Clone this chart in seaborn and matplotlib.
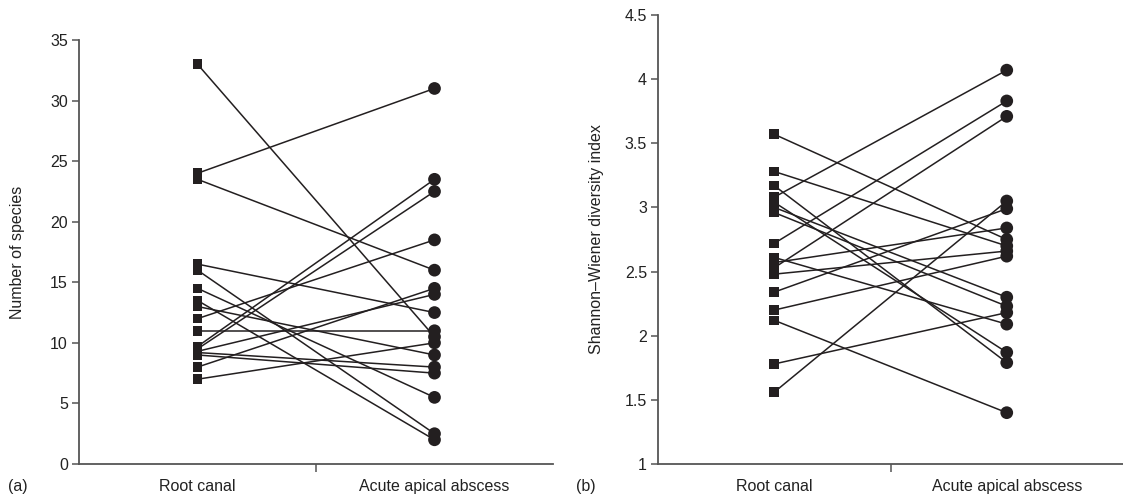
import matplotlib
matplotlib.use("Agg")
import matplotlib.pyplot as plt
import numpy as np
import pandas as pd
import seaborn as sns

# Paired samples: root canal vs. acute apical abscess
groups = ["Root canal", "Acute apical abscess"]

root_species = [33, 24, 23.5, 16.5, 16, 14.5, 13.5, 13, 12, 11,
                9.7, 9.5, 9.3, 9.2, 9, 8, 7]
abscess_species = [10.5, 31, 16, 12.5, 2.5, 5.5, 2, 9, 18.5, 11,
                   23.5, 22.5, 14, 8, 7.5, 14.5, 10]

root_shannon = [3.57, 3.28, 3.17, 3.08, 3.04, 3.00, 2.96, 2.72, 2.61, 2.57,
                2.53, 2.48, 2.34, 2.20, 2.12, 1.78, 1.56]
abscess_shannon = [2.75, 2.70, 1.79, 4.07, 1.87, 2.30, 2.23, 3.83, 2.09, 2.84,
                   3.71, 2.66, 2.99, 2.62, 1.40, 2.18, 3.05]

species_ticks = [0, 5, 10, 15, 20, 25, 30, 35]
species_ticklabels = ["0", "5", "10", "15", "20", "25", "30", "35"]
shannon_ticks = [1, 1.5, 2, 2.5, 3, 3.5, 4, 4.5]
shannon_ticklabels = ["1", "1.5", "2", "2.5", "3", "3.5", "4", "4.5"]

ink = "#231f20"
spine_col = "#555555"

sns.set_theme(style="ticks")
plt.rcParams["font.family"] = ["Liberation Sans", "DejaVu Sans"]
plt.rcParams["font.size"] = 11.5

fig = plt.figure(figsize=(11.23, 5), dpi=100)
ax_a = fig.add_axes([79 / 1123, 36 / 500, 474 / 1123, 424 / 500])
ax_b = fig.add_axes([658 / 1123, 36 / 500, 465 / 1123, 449 / 500])


def paired_panel(ax, before, after, ylim, yticks, yticklabels, ylabel, labelpad):
    n = len(before)
    df = pd.DataFrame({
        "pair": list(range(n)) * 2,
        "pos": [1] * n + [3] * n,
        "value": list(before) + list(after),
        "group": [groups[0]] * n + [groups[1]] * n,
    })
    sns.lineplot(data=df, x="pos", y="value", units="pair", estimator=None,
                 color=ink, linewidth=1.1, ax=ax, legend=False, zorder=2)
    sns.scatterplot(data=df[df["group"] == groups[0]], x="pos", y="value",
                    marker="s", s=48, color=ink, edgecolor="none",
                    ax=ax, legend=False, zorder=3)
    sns.scatterplot(data=df[df["group"] == groups[1]], x="pos", y="value",
                    marker="o", s=84, color=ink, edgecolor="none",
                    ax=ax, legend=False, zorder=3)

    ax.set_xlim(0, 4)
    ax.set_ylim(*ylim)
    ax.set_xticks([1, 3])
    ax.set_xticklabels(groups, fontsize=11.5, color="#222222")
    ax.set_xticks([2], minor=True)
    ax.tick_params(axis="x", which="major", length=0, pad=11)
    ax.tick_params(axis="x", which="minor", length=6, width=1.1,
                   color=spine_col, direction="out")
    ax.set_yticks(yticks)
    ax.set_yticklabels(yticklabels, fontsize=11.5, color="#222222")
    ax.tick_params(axis="y", length=5, width=1.1, color=spine_col,
                   direction="out", pad=3)
    ax.set_xlabel("")
    ax.set_ylabel(ylabel, fontsize=11.5, color="#222222", labelpad=labelpad)
    sns.despine(ax=ax)
    for side in ("left", "bottom"):
        ax.spines[side].set_color(spine_col)
        ax.spines[side].set_linewidth(1.3)


paired_panel(ax_a, root_species, abscess_species, (0, 35),
             species_ticks, species_ticklabels, "Number of species", 18)
paired_panel(ax_b, root_shannon, abscess_shannon, (1, 4.5),
             shannon_ticks, shannon_ticklabels,
             "Shannon–Wiener diversity index", 15)

fig.text(8 / 1123, 1 - 487 / 500, "(a)", fontsize=11.5, va="center",
         color="#222222")
fig.text(576 / 1123, 1 - 487 / 500, "(b)", fontsize=11.5, va="center",
         color="#222222")

fig.savefig("out.png", dpi=100)
